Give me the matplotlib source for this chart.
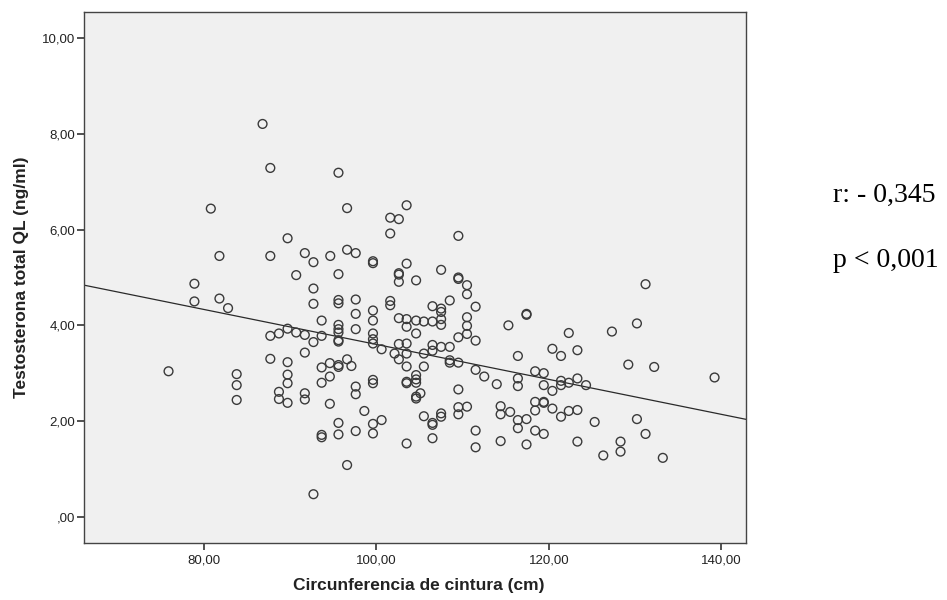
import matplotlib
matplotlib.use("Agg")
import matplotlib.pyplot as plt
from matplotlib.ticker import FixedLocator, FixedFormatter

# Waist circumference (cm) and total testosterone (ng/ml)
cintura = [
    86.8, 87.7, 80.8, 89.7, 81.8, 87.7, 78.9, 78.9, 81.8, 82.8, 75.9, 83.8,
    83.8, 83.8, 87.7, 88.7, 89.7, 87.7, 89.7, 89.7, 89.7, 88.7, 88.7, 89.7,
    95.6, 96.6, 103.5, 101.6, 102.6, 101.6, 109.5, 91.7, 92.7, 94.65, 96.6, 97.6,
    99.6, 99.6, 103.5, 102.6, 102.6, 102.6, 104.6, 107.5, 109.5, 109.5, 110.5, 110.5,
    90.7, 95.6, 92.7, 97.6, 108.5,
    92.7, 95.6, 95.6, 101.6, 101.6, 97.6, 99.6, 99.6, 97.6, 93.65, 95.6, 95.6,
    95.6, 95.6, 95.6, 99.6, 99.6, 99.6, 102.6, 103.5, 104.6, 105.5, 106.5, 106.5,
    107.5, 107.5, 107.5, 107.5, 110.5, 110.5, 110.5, 111.5, 111.5, 109.5, 103.5, 104.6,
    102.6, 103.5, 100.6, 102.1, 103.5, 102.6, 103.5, 105.5, 105.5, 106.5, 106.5, 107.5,
    108.5, 108.5, 108.5, 109.5, 111.5, 112.5, 113.95, 115.3, 90.7, 91.7, 92.7, 93.65,
    91.7, 91.7, 91.7, 93.65, 94.6, 95.6, 95.6, 96.6, 97.1, 94.6, 93.65, 99.6,
    99.6, 97.6, 97.6, 94.6, 98.6, 95.6, 95.6, 93.65, 93.65, 97.6, 99.6, 99.6,
    100.6, 96.6, 92.7, 103.5, 103.5, 104.6, 104.6, 104.6, 105.1, 104.6, 104.6, 105.5,
    106.5, 106.5, 106.5, 107.5, 107.5, 103.5, 109.5, 109.5, 109.5, 110.5, 111.5, 111.5,
    114.4, 114.4, 114.4, 115.5,
    131.2, 117.4, 117.4, 122.3, 127.3, 130.2, 116.4, 120.4, 121.4, 123.3, 129.2, 132.2,
    118.4, 119.4, 139.2, 116.4, 116.4, 119.4, 121.4, 121.4, 122.3, 123.3, 124.3, 120.4,
    118.4, 119.4, 119.4, 118.4, 120.4, 121.4, 122.3, 123.3, 116.4, 117.4, 116.4, 118.4,
    119.4, 117.4, 123.3, 125.3, 130.2, 131.2, 128.3, 128.3, 126.3, 133.2,
]
testosterona = [
    8.21, 7.29, 6.44, 5.82, 5.45, 5.45, 4.87, 4.50, 4.56, 4.36, 3.04, 2.98,
    2.75, 2.44, 3.78, 3.83, 3.93, 3.30, 3.23, 2.97, 2.79, 2.61, 2.46, 2.38,
    7.19, 6.45, 6.51, 6.25, 6.22, 5.92, 5.87, 5.51, 5.32, 5.45, 5.58, 5.51,
    5.34, 5.30, 5.29, 5.09, 5.06, 4.91, 4.94, 5.16, 5.00, 4.97, 4.84, 4.65,
    5.05, 5.07, 4.77, 4.54, 4.52,
    4.45, 4.53, 4.46, 4.51, 4.42, 4.24, 4.31, 4.10, 3.92, 4.10, 4.01, 3.92,
    3.85, 3.69, 3.66, 3.83, 3.71, 3.62, 4.15, 4.13, 4.10, 4.08, 4.08, 4.40,
    4.35, 4.28, 4.13, 4.01, 4.17, 3.99, 3.82, 4.39, 3.68, 3.75, 3.97, 3.83,
    3.61, 3.62, 3.50, 3.41, 3.41, 3.29, 3.14, 3.41, 3.14, 3.59, 3.47, 3.55,
    3.55, 3.27, 3.22, 3.22, 3.07, 2.93, 2.77, 4.00, 3.85, 3.80, 3.65, 3.78,
    3.43, 2.58, 2.45, 3.12, 3.21, 3.17, 3.13, 3.29, 3.15, 2.93, 2.80, 2.86,
    2.79, 2.72, 2.56, 2.36, 2.21, 1.96, 1.72, 1.71, 1.66, 1.79, 1.94, 1.74,
    2.02, 1.08, 0.47, 2.82, 2.79, 2.96, 2.87, 2.80, 2.58, 2.51, 2.47, 2.10,
    1.96, 1.92, 1.64, 2.16, 2.09, 1.53, 2.66, 2.29, 2.14, 2.30, 1.80, 1.45,
    2.31, 2.14, 1.58, 2.19,
    4.86, 4.24, 4.22, 3.84, 3.87, 4.04, 3.36, 3.51, 3.36, 3.48, 3.18, 3.13,
    3.04, 3.00, 2.91, 2.89, 2.73, 2.75, 2.84, 2.75, 2.80, 2.89, 2.75, 2.63,
    2.40, 2.40, 2.38, 2.22, 2.26, 2.09, 2.21, 2.23, 2.02, 2.04, 1.85, 1.80,
    1.73, 1.51, 1.57, 1.98, 2.04, 1.73, 1.57, 1.36, 1.28, 1.23,
]

# Linear fit line (intercept, slope)
fit_intercept = 7.256
fit_slope = -0.03655

x_ticks = [80, 100, 120, 140]
x_tick_labels = ["80,00", "100,00", "120,00", "140,00"]
y_ticks = [0, 2, 4, 6, 8, 10]
y_tick_labels = [",00", "2,00", "4,00", "6,00", "8,00", "10,00"]

stat_r = "r: - 0,345"
stat_p = "p < 0,001"

plt.rcParams["font.family"] = ["Liberation Sans", "DejaVu Sans"]

fig = plt.figure(figsize=(9.47, 6.0), dpi=100)
ax = fig.add_axes([0.0887, 0.0942, 0.6991, 0.8866])
ax.set_facecolor("#f0f0f0")

ax.scatter(cintura, testosterona, s=40, facecolors="none",
           edgecolors="#3a3a3a", linewidths=1.0, zorder=3)
ax.axline((0, fit_intercept), slope=fit_slope, color="#2a2a2a",
          linewidth=0.9, zorder=2)

ax.set_xlim(66.1, 142.85)
ax.set_ylim(-0.56, 10.56)

ax.xaxis.set_major_locator(FixedLocator(x_ticks))
ax.xaxis.set_major_formatter(FixedFormatter(x_tick_labels))
ax.yaxis.set_major_locator(FixedLocator(y_ticks))
ax.yaxis.set_major_formatter(FixedFormatter(y_tick_labels))

ax.tick_params(axis="both", direction="out", length=5, width=1.2,
               color="#333333", labelsize=9.5, labelcolor="#222222")
ax.tick_params(axis="x", pad=3)
ax.tick_params(axis="y", pad=1.5)
ax.tick_params(top=False, right=False)

for sp in ax.spines.values():
    sp.set_color("#444444")
    sp.set_linewidth(1.0)

ax.set_xlabel("Circunferencia de cintura (cm)", fontsize=12.5,
              fontweight="bold", color="#222222")
ax.set_ylabel("Testosterona total QL (ng/ml)", fontsize=12.5,
              fontweight="bold", color="#222222")
ax.xaxis.label.set_va("center")
ax.xaxis.set_label_coords(0.506, -0.0788)
ax.yaxis.label.set_va("center")
ax.yaxis.set_label_coords(-0.0937, 0.5)

fig.text(0.8796, 0.6638, stat_r, fontsize=20, family="Liberation Serif",
         ha="left", va="baseline", color="black")
fig.text(0.8796, 0.5555, stat_p, fontsize=20, family="Liberation Serif",
         ha="left", va="baseline", color="black")

fig.savefig("out.png", dpi=100)
